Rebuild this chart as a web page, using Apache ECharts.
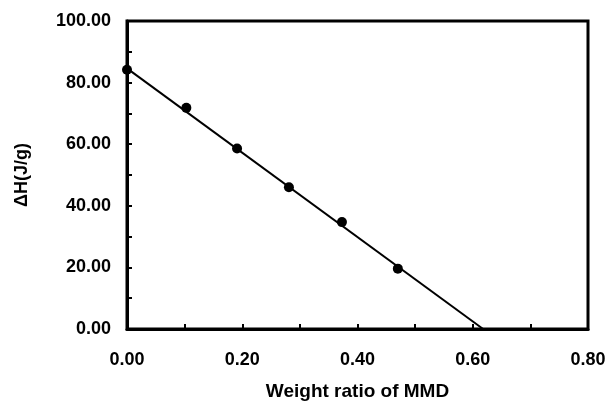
<!DOCTYPE html>
<html>
<head>
<meta charset="utf-8">
<script src="https://cdn.jsdelivr.net/npm/echarts@6/dist/echarts.min.js"></script>
<style>
  html, body { margin: 0; padding: 0; background: #fff; }
  #chart { width: 610px; height: 406px; }
</style>
</head>
<body>
<div id="chart"></div>
<script>
// measured points
var ratioMMD = [0.0, 0.103, 0.191, 0.281, 0.373, 0.470];
var deltaH = [84.2, 71.8, 58.6, 46.0, 34.7, 19.6];
// fitted line end points
var fitX = [0.0, 0.618];
var fitY = [84.6, 0.0];

var xTicks = { min: 0, max: 0.8, interval: 0.2 };
var yTicks = { min: 0, max: 100, interval: 20 };

var font = "Liberation Sans";

var myChart = echarts.init(document.getElementById("chart"));

var points = [];
for (var i = 0; i < ratioMMD.length; i++) {
  points.push([ratioMMD[i], deltaH[i]]);
}
var fit = [];
for (var j = 0; j < fitX.length; j++) {
  fit.push([fitX[j], fitY[j]]);
}

var option = {
  animation: false,
  grid: {
    left: 127,
    right: 22,
    top: 21,
    bottom: 75,
    show: true,
    borderColor: "#000",
    borderWidth: 3,
  },
  xAxis: {
    type: "value",
    min: xTicks.min,
    max: xTicks.max,
    interval: xTicks.interval,
    name: "Weight ratio of MMD",
    nameLocation: "middle",
    nameGap: 53,
    nameTextStyle: { color: "#000", fontFamily: font, fontWeight: "bold", fontSize: 19 },
    axisLine: { lineStyle: { color: "#000", width: 3 } },
    axisTick: { inside: true, length: 5, lineStyle: { color: "#000", width: 2 } },
    minorTick: { show: true, splitNumber: 2, length: 5, lineStyle: { color: "#000", width: 2 } },
    splitLine: { show: false },
    axisLabel: {
      margin: 22,
      color: "#000",
      fontFamily: font,
      fontWeight: "bold",
      fontSize: 18,
      formatter: function (v) { return v.toFixed(2); },
    },
  },
  yAxis: {
    type: "value",
    min: yTicks.min,
    max: yTicks.max,
    interval: yTicks.interval,
    name: "\u0394H(J/g)",
    nameLocation: "middle",
    nameGap: 96,
    nameRotate: 90,
    nameTextStyle: { color: "#000", fontFamily: font, fontWeight: "bold", fontSize: 18 },
    axisLine: { lineStyle: { color: "#000", width: 3 } },
    axisTick: { inside: true, length: 5, lineStyle: { color: "#000", width: 2 } },
    minorTick: { show: true, splitNumber: 2, length: 5, lineStyle: { color: "#000", width: 2 } },
    splitLine: { show: false },
    axisLabel: {
      margin: 16,
      color: "#000",
      fontFamily: font,
      fontWeight: "bold",
      fontSize: 18,
      formatter: function (v) { return v.toFixed(2); },
    },
  },
  series: [
    {
      type: "line",
      data: fit,
      symbol: "none",
      lineStyle: { color: "#000", width: 2 },
      z: 2,
    },
    {
      type: "scatter",
      data: points,
      symbol: "circle",
      symbolSize: 10,
      itemStyle: { color: "#000", opacity: 1 },
      z: 3,
    },
  ],
};

myChart.setOption(option);
</script>
</body>
</html>
